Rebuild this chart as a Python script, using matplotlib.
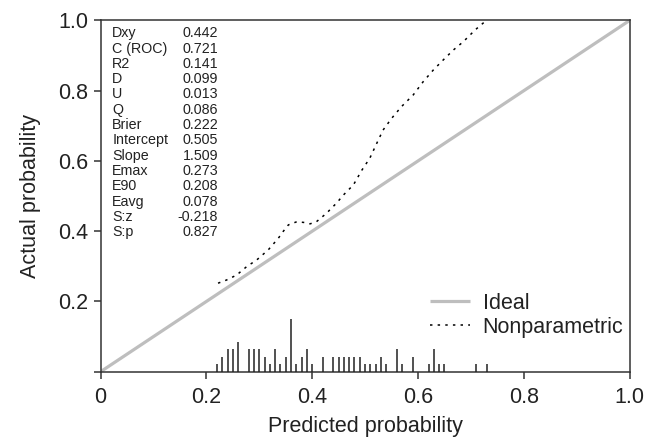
import matplotlib
matplotlib.use("Agg")
import matplotlib.pyplot as plt
import numpy as np

plt.rcParams['font.family'] = ['Liberation Sans', 'DejaVu Sans']

# Nonparametric calibration curve (predicted, actual)
curve_x = [0.222, 0.238, 0.257, 0.276, 0.295, 0.317, 0.336, 0.345, 0.355, 0.371,
           0.384, 0.396, 0.408, 0.427, 0.446, 0.459, 0.478, 0.494, 0.509, 0.522,
           0.534, 0.550, 0.569, 0.591, 0.610, 0.629, 0.648, 0.667, 0.686, 0.708, 0.729]
curve_y = [0.252, 0.261, 0.275, 0.299, 0.318, 0.347, 0.380, 0.399, 0.418, 0.427,
           0.425, 0.421, 0.427, 0.451, 0.480, 0.503, 0.532, 0.574, 0.608, 0.650,
           0.688, 0.721, 0.755, 0.788, 0.826, 0.859, 0.888, 0.916, 0.940, 0.973, 1.000]

# Distribution of predicted probabilities (spike histogram)
spike_x = [0.22, 0.23, 0.24, 0.25, 0.26, 0.28, 0.29, 0.30, 0.31, 0.32, 0.33, 0.34,
           0.35, 0.36, 0.37, 0.38, 0.39, 0.40, 0.42, 0.44, 0.45, 0.46, 0.47, 0.48,
           0.49, 0.50, 0.51, 0.52, 0.53, 0.54, 0.56, 0.57, 0.59, 0.62, 0.63, 0.64,
           0.65, 0.71, 0.73]
spike_counts = [1, 2, 3, 3, 4, 3, 3, 3, 2, 1, 3, 1,
                2, 7, 1, 2, 3, 1, 2, 2, 2, 2, 2, 2,
                2, 1, 1, 1, 2, 1, 3, 1, 2, 1, 3, 1,
                1, 1, 1]

stat_names = ["Dxy", "C (ROC)", "R2", "D", "U", "Q", "Brier", "Intercept",
              "Slope", "Emax", "E90", "Eavg", "S:z", "S:p"]
stat_values = ["0.442", "0.721", "0.141", "0.099", "0.013", "0.086", "0.222",
               "0.505", "1.509", "0.273", "0.208", "0.078", "-0.218", "0.827"]

xticks = [0, 0.2, 0.4, 0.6, 0.8, 1.0]
xticklabels = ["0", "0.2", "0.4", "0.6", "0.8", "1.0"]
yticks = [0, 0.2, 0.4, 0.6, 0.8, 1.0]
yticklabels = ["", "0.2", "0.4", "0.6", "0.8", "1.0"]

fig = plt.figure(figsize=(6.45, 4.38), dpi=100)
ax = fig.add_axes([0.156, 0.1514, 0.82, 0.8018])
ax.set_xlim(0, 1)
ax.set_ylim(0, 1)

ax.plot([0, 1], [0, 1], color='#bebebe', lw=2.3, solid_capstyle='butt', label='Ideal', zorder=2)
ax.plot(curve_x, curve_y, color='black', lw=1.1, linestyle=(0, (1.6, 3.4)),
        label='Nonparametric', zorder=3)

spike_h = np.array(spike_counts) / max(spike_counts) * 0.15
ax.vlines(spike_x, 0, spike_h, color='#222222', lw=1.1, zorder=3)

for spine in ax.spines.values():
    spine.set_color('#333333')
    spine.set_linewidth(1.1)

ax.set_xticks(xticks)
ax.set_xticklabels(xticklabels)
ax.set_yticks(yticks)
ax.set_yticklabels(yticklabels)
ax.tick_params(direction='out', length=5, width=1.1, color='#333333',
               labelsize=15.5, colors='#222222')
ax.tick_params(axis='x', pad=6)
ax.tick_params(axis='y', pad=4)

ax.set_xlabel("Predicted probability", fontsize=15.5, color='#222222', labelpad=6)
ax.set_ylabel("Actual probability", fontsize=15.5, color='#222222', labelpad=12)

# statistics block
y0 = (371.7 - 33.3) / 351.2
dy = 15.3 / 351.2
for i, (n, v) in enumerate(zip(stat_names, stat_values)):
    ax.text(0.022, y0 - i * dy, n, fontsize=10.3, va='center', ha='left', color='#222222')
    ax.text(0.222, y0 - i * dy, v, fontsize=10.3, va='center', ha='right', color='#222222')

leg = ax.legend(loc='upper left', bbox_to_anchor=(0.622, 0.224), frameon=False,
                fontsize=15.5, handlelength=1.86, handletextpad=0.6, labelspacing=0.14,
                borderpad=0, borderaxespad=0)
for t in leg.get_texts():
    t.set_color('#222222')

fig.savefig("out.png", dpi=100)
